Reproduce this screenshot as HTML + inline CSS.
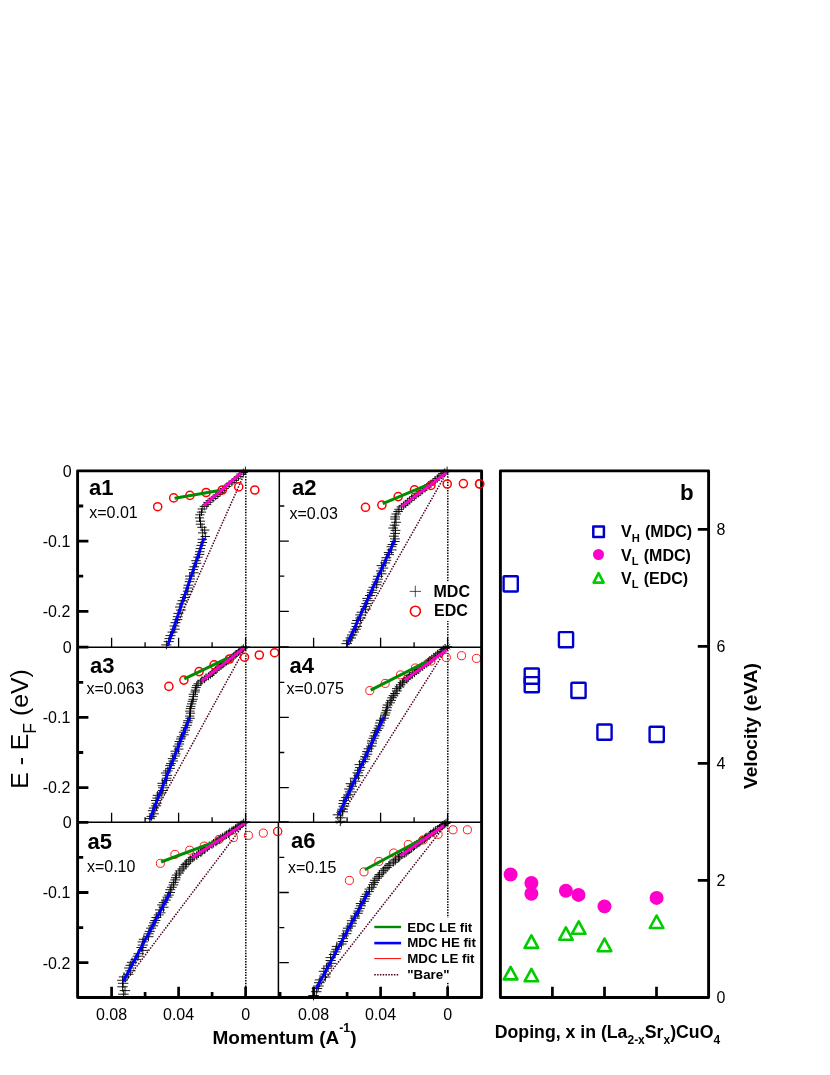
<!DOCTYPE html>
<html><head><meta charset="utf-8"><title>Figure</title>
<style>
html,body{margin:0;padding:0;background:#fff;}
body{width:830px;height:1075px;position:relative;overflow:hidden;font-family:"Liberation Sans",sans-serif;color:#000;}
.t{position:absolute;white-space:nowrap;line-height:0;height:0;}
.sb{position:relative;}
.txt{position:absolute;left:0;top:0;width:830px;height:1075px;filter:grayscale(1);}
</style></head><body>
<svg width="830" height="1075" viewBox="0 0 830 1075" style="position:absolute;left:0;top:0">
<rect width="830" height="1075" fill="#fff"/>
<g>
<line x1="245.8" y1="470.9" x2="245.8" y2="647.2" stroke="#000" stroke-width="1.5" stroke-dasharray="1.45 1.27"/>
<line x1="245.6" y1="471.0" x2="167.0" y2="647.0" stroke="#4d0026" stroke-width="1.5" stroke-dasharray="1.5 1.3"/>
<path d="M241.0 470.4h8.8M245.4 466.6v7.6M239.0 472.5h8.8M243.4 468.7v7.6M236.4 474.1h8.8M240.8 470.3v7.6M234.1 476.6h8.9M238.5 472.8v7.7M231.9 478.7h8.9M236.3 474.9v7.7M229.8 480.4h8.9M234.2 476.5v7.7M227.5 482.4h8.9M231.9 478.6v7.7M224.7 484.1h8.9M229.1 480.3v7.7M222.2 486.4h9.0M226.7 482.5v7.7M219.8 488.5h9.0M224.3 484.6v7.8M218.0 490.5h9.0M222.5 486.6v7.8M215.6 492.4h9.0M220.1 488.5v7.8M213.4 494.6h9.0M217.9 490.7v7.8M211.2 496.4h9.1M215.7 492.4v7.8M208.6 498.5h9.1M213.1 494.6v7.8M205.5 500.7h9.1M210.1 496.7v7.9M203.4 502.4h9.1M208.0 498.5v7.9M202.2 504.7h9.1M206.8 500.8v7.9M199.7 506.4h9.2M204.2 502.5v7.9M197.6 509.0h9.2M202.2 505.1v7.9M196.9 512.1h9.2M201.5 508.1v7.9M195.3 514.8h9.2M199.9 510.8v8.0M194.9 517.9h9.2M199.5 514.0v8.0M195.8 521.2h9.3M200.4 517.2v8.0M195.8 524.2h9.3M200.5 520.2v8.0M197.3 527.3h9.3M202.0 523.3v8.0M200.1 530.1h9.3M204.7 526.1v8.1M198.0 532.9h9.3M202.7 528.9v8.1M200.6 536.5h9.4M205.3 532.4v8.1M197.6 539.3h9.4M202.3 535.3v8.1M197.7 542.5h9.4M202.4 538.4v8.1M196.4 545.4h9.4M201.1 541.3v8.1M195.7 548.6h9.4M200.4 544.5v8.2M195.0 551.7h9.5M199.7 547.6v8.2M194.8 554.4h9.5M199.5 550.3v8.2M193.3 557.2h9.5M198.1 553.1v8.2M191.3 560.7h9.5M196.1 556.6v8.2M191.8 563.3h9.6M196.6 559.2v8.2M189.4 566.8h9.6M194.2 562.6v8.3M188.4 569.6h9.6M193.2 565.4v8.3M189.1 572.8h9.6M193.9 568.6v8.3M185.0 576.1h9.6M189.8 572.0v8.3M185.3 579.0h9.7M190.1 574.8v8.3M184.7 581.7h9.7M189.5 577.6v8.4M183.6 585.2h9.7M188.5 581.0v8.4M183.1 588.0h9.7M187.9 583.8v8.4M182.9 591.2h9.7M187.7 587.0v8.4M180.6 594.7h9.8M185.5 590.5v8.4M179.8 597.5h9.8M184.7 593.3v8.5M177.5 600.7h9.8M182.5 596.5v8.5M176.3 603.9h9.8M181.2 599.6v8.5M175.0 607.0h9.9M179.9 602.8v8.5M175.9 610.1h9.9M180.8 605.8v8.5M173.4 613.4h9.9M178.4 609.1v8.5M172.8 616.7h9.9M177.8 612.4v8.6M172.5 619.6h9.9M177.5 615.3v8.6M170.5 622.7h10.0M175.4 618.4v8.6M169.5 626.0h10.0M174.5 621.7v8.6M169.8 629.2h10.0M174.8 624.9v8.6M167.5 632.1h10.0M172.6 627.7v8.7M165.5 635.6h10.0M170.5 631.3v8.7M164.4 638.6h10.1M169.4 634.3v8.7M163.7 641.6h10.1M168.7 637.3v8.7M161.3 644.9h10.1M166.4 640.5v8.7" stroke="#000" stroke-width="0.9" fill="none"/>
<circle cx="157.7" cy="506.7" r="4.05" fill="none" stroke="#ff0000" stroke-width="1.5"/>
<circle cx="173.7" cy="497.9" r="4.05" fill="none" stroke="#ff0000" stroke-width="1.5"/>
<circle cx="189.9" cy="495.4" r="4.05" fill="none" stroke="#ff0000" stroke-width="1.5"/>
<circle cx="206.1" cy="492.5" r="4.05" fill="none" stroke="#ff0000" stroke-width="1.5"/>
<circle cx="222.3" cy="490.0" r="4.05" fill="none" stroke="#ff0000" stroke-width="1.5"/>
<circle cx="238.7" cy="486.9" r="4.05" fill="none" stroke="#ff0000" stroke-width="1.5"/>
<circle cx="254.8" cy="490.0" r="4.05" fill="none" stroke="#ff0000" stroke-width="1.5"/>
<line x1="174.6" y1="498.2" x2="219.3" y2="490.6" stroke="#008c00" stroke-width="3.0"/>
<line x1="204.1" y1="537.9" x2="167.8" y2="645.2" stroke="#0000ff" stroke-width="2.9"/>
<line x1="204.1" y1="505.5" x2="241.2" y2="472.6" stroke="#ff00cc" stroke-width="2.9"/>
</g>
<g>
<line x1="447.8" y1="470.9" x2="447.8" y2="647.2" stroke="#000" stroke-width="1.5" stroke-dasharray="1.45 1.27"/>
<line x1="447.6" y1="471.0" x2="347.5" y2="647.0" stroke="#4d0026" stroke-width="1.5" stroke-dasharray="1.5 1.3"/>
<path d="M442.5 470.4h9.2M447.1 466.6v7.6M440.2 472.1h9.2M444.8 468.3v7.6M438.5 473.6h9.2M443.1 469.8v7.6M436.5 475.2h9.3M441.1 471.4v7.6M434.3 476.9h9.3M438.9 473.0v7.7M432.8 478.5h9.3M437.4 474.7v7.7M430.4 480.3h9.3M435.1 476.4v7.7M428.3 482.0h9.3M432.9 478.2v7.7M426.2 483.7h9.3M430.8 479.9v7.7M424.4 485.0h9.4M429.1 481.2v7.7M422.2 487.0h9.4M426.9 483.1v7.7M420.3 488.3h9.4M425.0 484.4v7.8M417.7 490.4h9.4M422.4 486.5v7.8M416.1 491.8h9.4M420.8 487.9v7.8M413.8 493.4h9.4M418.5 489.5v7.8M411.2 495.3h9.5M416.0 491.4v7.8M409.7 496.7h9.5M414.4 492.8v7.8M406.8 498.3h9.5M411.6 494.4v7.8M404.7 500.4h9.5M409.5 496.5v7.9M402.8 502.1h9.5M407.6 498.2v7.9M400.9 503.8h9.6M405.7 499.9v7.9M398.9 505.4h9.6M403.7 501.5v7.9M396.6 506.9h9.6M401.4 503.0v7.9M394.3 509.3h9.6M399.1 505.3v7.9M393.3 511.5h9.6M398.1 507.6v7.9M391.4 514.0h9.6M396.2 510.0v8.0M390.3 516.9h9.7M395.2 512.9v8.0M390.2 519.1h9.7M395.1 515.1v8.0M391.2 522.3h9.7M396.0 518.3v8.0M389.7 525.2h9.7M394.6 521.2v8.0M388.3 528.0h9.7M393.1 523.9v8.0M390.6 530.4h9.8M395.5 526.3v8.1M390.2 533.4h9.8M395.1 529.4v8.1M388.9 536.2h9.8M393.8 532.2v8.1M390.0 538.9h9.8M394.9 534.8v8.1M389.9 541.5h9.8M394.9 537.4v8.1M387.6 544.5h9.8M392.5 540.5v8.1M386.6 546.7h9.9M391.5 542.6v8.1M386.7 549.9h9.9M391.6 545.8v8.2M383.8 552.5h9.9M388.7 548.4v8.2M384.1 554.6h9.9M389.1 550.5v8.2M381.4 557.7h9.9M386.4 553.6v8.2M381.2 560.3h10.0M386.1 556.2v8.2M380.2 562.9h10.0M385.2 558.8v8.2M376.6 565.6h10.0M381.6 561.5v8.3M378.2 568.1h10.0M383.2 564.0v8.3M375.9 570.9h10.0M380.9 566.8v8.3M376.5 573.8h10.1M381.5 569.6v8.3M373.1 576.3h10.1M378.1 572.2v8.3M372.7 579.2h10.1M377.7 575.1v8.3M371.8 582.0h10.1M376.8 577.8v8.4M371.2 584.7h10.1M376.3 580.5v8.4M368.5 587.3h10.2M373.6 583.1v8.4M367.1 590.2h10.2M372.2 586.0v8.4M366.7 592.6h10.2M371.8 588.4v8.4M364.9 595.5h10.2M370.0 591.3v8.4M362.3 598.4h10.2M367.5 594.2v8.5M362.7 600.7h10.3M367.8 596.5v8.5M361.4 603.6h10.3M366.5 599.4v8.5M359.8 606.4h10.3M364.9 602.1v8.5M360.4 609.2h10.3M365.6 604.9v8.5M356.6 612.2h10.3M361.8 608.0v8.5M355.3 614.9h10.4M360.5 610.7v8.6M355.3 618.0h10.4M360.5 613.7v8.6M352.2 620.5h10.4M357.4 616.2v8.6M351.2 623.4h10.4M356.4 619.1v8.6M351.6 626.5h10.4M356.8 622.2v8.6M350.3 629.2h10.5M355.5 624.8v8.6M348.6 632.0h10.5M353.8 627.7v8.7M346.9 635.0h10.5M352.2 630.7v8.7M345.5 638.0h10.5M350.8 633.7v8.7M342.7 640.8h10.5M348.0 636.5v8.7M341.4 643.6h10.6M346.7 639.3v8.7" stroke="#000" stroke-width="0.9" fill="none"/>
<circle cx="365.5" cy="507.3" r="4.05" fill="none" stroke="#ff0000" stroke-width="1.5"/>
<circle cx="381.9" cy="505.1" r="4.05" fill="none" stroke="#ff0000" stroke-width="1.5"/>
<circle cx="398.2" cy="496.6" r="4.05" fill="none" stroke="#ff0000" stroke-width="1.5"/>
<circle cx="414.5" cy="489.9" r="4.05" fill="none" stroke="#ff0000" stroke-width="1.5"/>
<circle cx="430.9" cy="485.4" r="4.05" fill="none" stroke="#ff0000" stroke-width="1.5"/>
<circle cx="447.2" cy="484.0" r="4.05" fill="none" stroke="#ff0000" stroke-width="1.5"/>
<circle cx="463.4" cy="483.6" r="4.05" fill="none" stroke="#ff0000" stroke-width="1.5"/>
<circle cx="479.6" cy="483.9" r="4.05" fill="none" stroke="#ff0000" stroke-width="1.5"/>
<line x1="382.8" y1="503.7" x2="426.8" y2="485.2" stroke="#008c00" stroke-width="3.0"/>
<line x1="394.8" y1="540.0" x2="347.0" y2="644.3" stroke="#0000ff" stroke-width="2.9"/>
<line x1="401.4" y1="506.6" x2="446.6" y2="472.6" stroke="#ff00cc" stroke-width="2.9"/>
</g>
<g>
<line x1="245.8" y1="647.2" x2="245.8" y2="822.3" stroke="#000" stroke-width="1.5" stroke-dasharray="1.45 1.27"/>
<line x1="245.6" y1="647.0" x2="149.5" y2="822.0" stroke="#4d0026" stroke-width="1.5" stroke-dasharray="1.5 1.3"/>
<path d="M241.1 646.9h8.8M245.5 643.1v7.6M239.0 648.1h8.8M243.4 644.3v7.6M237.7 649.4h8.8M242.1 645.6v7.6M235.5 650.6h8.8M239.9 646.8v7.6M233.9 652.2h8.9M238.4 648.4v7.6M231.8 653.9h8.9M236.3 650.1v7.7M230.7 654.9h8.9M235.2 651.1v7.7M229.1 656.3h8.9M233.5 652.4v7.7M226.7 657.8h8.9M231.1 653.9v7.7M225.6 659.3h8.9M230.0 655.4v7.7M223.8 660.8h8.9M228.2 656.9v7.7M221.7 662.1h9.0M226.2 658.2v7.7M219.4 663.4h9.0M223.9 659.5v7.7M218.4 664.5h9.0M222.9 660.6v7.8M216.5 666.0h9.0M221.0 662.1v7.8M214.4 667.4h9.0M218.9 663.5v7.8M212.5 668.8h9.0M217.0 664.9v7.8M210.9 670.2h9.0M215.5 666.3v7.8M208.8 672.1h9.1M213.3 668.2v7.8M207.7 673.4h9.1M212.2 669.5v7.8M205.8 675.0h9.1M210.4 671.0v7.9M204.0 676.4h9.1M208.5 672.4v7.9M201.4 677.4h9.1M206.0 673.4v7.9M199.8 679.2h9.1M204.4 675.3v7.9M197.4 680.3h9.2M201.9 676.4v7.9M196.2 681.9h9.2M200.8 677.9v7.9M193.5 683.8h9.2M198.1 679.9v7.9M192.2 685.6h9.2M196.8 681.6v7.9M191.5 687.6h9.2M196.1 683.6v8.0M190.8 690.1h9.2M195.4 686.1v8.0M190.5 692.0h9.2M195.1 688.0v8.0M188.7 694.3h9.3M193.3 690.3v8.0M188.8 696.6h9.3M193.5 692.6v8.0M188.4 699.3h9.3M193.1 695.3v8.0M187.6 701.3h9.3M192.3 697.3v8.0M186.9 703.9h9.3M191.6 699.9v8.0M186.2 706.4h9.3M190.8 702.3v8.1M185.8 708.6h9.4M190.5 704.6v8.1M185.1 711.1h9.4M189.8 707.1v8.1M185.8 713.2h9.4M190.5 709.2v8.1M185.0 716.1h9.4M189.7 712.0v8.1M185.3 718.3h9.4M190.0 714.2v8.1M183.3 720.7h9.4M188.0 716.7v8.1M183.0 722.7h9.4M187.7 718.7v8.2M182.4 725.3h9.5M187.1 721.2v8.2M180.7 727.7h9.5M185.5 723.6v8.2M180.5 730.2h9.5M185.2 726.1v8.2M178.8 732.2h9.5M183.5 728.1v8.2M179.3 734.8h9.5M184.0 730.7v8.2M176.7 736.8h9.5M181.5 732.7v8.2M176.0 739.0h9.6M180.8 734.9v8.3M174.6 741.5h9.6M179.4 737.4v8.3M174.5 744.0h9.6M179.3 739.8v8.3M172.9 746.2h9.6M177.7 742.1v8.3M173.8 749.1h9.6M178.6 745.0v8.3M170.5 751.2h9.6M175.3 747.1v8.3M170.8 753.8h9.7M175.6 749.7v8.3M170.2 756.0h9.7M175.0 751.9v8.4M167.8 758.6h9.7M172.6 754.4v8.4M168.4 761.0h9.7M173.2 756.9v8.4M166.1 763.6h9.7M171.0 759.4v8.4M165.2 765.6h9.7M170.1 761.4v8.4M165.1 768.4h9.8M169.9 764.1v8.4M162.9 770.9h9.8M167.8 766.7v8.4M160.9 773.0h9.8M165.8 768.8v8.5M162.3 775.4h9.8M167.2 771.2v8.5M161.7 778.2h9.8M166.7 774.0v8.5M161.4 780.4h9.8M166.3 776.2v8.5M157.4 783.3h9.9M162.3 779.0v8.5M157.7 785.7h9.9M162.6 781.4v8.5M158.1 787.8h9.9M163.0 783.5v8.5M157.8 790.5h9.9M162.7 786.2v8.6M156.2 793.0h9.9M161.2 788.7v8.6M152.7 795.3h9.9M157.7 791.0v8.6M152.4 798.1h10.0M157.3 793.8v8.6M151.0 800.5h10.0M156.0 796.2v8.6M151.6 803.3h10.0M156.6 799.0v8.6M151.2 805.8h10.0M156.2 801.5v8.6M148.8 808.1h10.0M153.8 803.8v8.7M147.8 810.7h10.1M152.9 806.4v8.7M148.8 813.8h10.1M153.8 809.4v8.7M146.5 816.4h10.1M151.6 812.0v8.7M144.8 818.6h10.1M149.8 814.3v8.7" stroke="#000" stroke-width="0.9" fill="none"/>
<circle cx="168.9" cy="686.4" r="4.05" fill="none" stroke="#ff0000" stroke-width="1.5"/>
<circle cx="183.9" cy="680.1" r="4.05" fill="none" stroke="#ff0000" stroke-width="1.5"/>
<circle cx="199.1" cy="671.6" r="4.05" fill="none" stroke="#ff0000" stroke-width="1.5"/>
<circle cx="214.1" cy="664.9" r="4.05" fill="none" stroke="#ff0000" stroke-width="1.5"/>
<circle cx="229.5" cy="659.0" r="4.05" fill="none" stroke="#ff0000" stroke-width="1.5"/>
<circle cx="244.5" cy="657.2" r="4.05" fill="none" stroke="#ff0000" stroke-width="1.5"/>
<circle cx="259.3" cy="655.0" r="4.05" fill="none" stroke="#ff0000" stroke-width="1.5"/>
<circle cx="274.6" cy="652.7" r="4.05" fill="none" stroke="#ff0000" stroke-width="1.5"/>
<line x1="184.3" y1="678.9" x2="228.6" y2="657.7" stroke="#008c00" stroke-width="3.0"/>
<line x1="189.7" y1="717.4" x2="149.6" y2="819.8" stroke="#0000ff" stroke-width="2.9"/>
<line x1="201.4" y1="681.2" x2="243.9" y2="648.1" stroke="#ff00cc" stroke-width="2.9"/>
</g>
<g>
<line x1="447.8" y1="647.2" x2="447.8" y2="822.3" stroke="#000" stroke-width="1.5" stroke-dasharray="1.45 1.27"/>
<line x1="447.6" y1="647.0" x2="339.5" y2="818.0" stroke="#4d0026" stroke-width="1.5" stroke-dasharray="1.5 1.3"/>
<path d="M442.9 646.7h9.2M447.5 642.5v8.4M440.5 648.4h9.2M445.1 644.2v8.4M438.7 649.6h9.2M443.3 645.4v8.4M436.7 651.4h9.2M441.3 647.2v8.4M435.6 652.8h9.3M440.2 648.5v8.5M433.1 654.0h9.3M437.8 649.8v8.5M431.0 655.9h9.3M435.7 651.6v8.5M429.4 657.4h9.3M434.0 653.1v8.5M427.2 658.9h9.3M431.9 654.6v8.5M425.4 660.4h9.3M430.0 656.1v8.5M423.8 661.9h9.4M428.5 657.7v8.5M422.2 663.2h9.4M426.9 658.9v8.6M419.7 664.8h9.4M424.4 660.5v8.6M417.5 666.6h9.4M422.2 662.3v8.6M415.1 668.1h9.4M419.9 663.8v8.6M413.3 669.6h9.4M418.0 665.3v8.6M411.5 670.9h9.5M416.2 666.6v8.6M409.8 672.9h9.5M414.5 668.5v8.7M407.5 674.4h9.5M412.3 670.1v8.7M404.9 675.8h9.5M409.6 671.5v8.7M403.4 677.7h9.5M408.2 673.4v8.7M401.9 678.8h9.5M406.7 674.4v8.7M399.1 681.0h9.6M403.9 676.6v8.7M397.8 682.7h9.6M402.5 678.3v8.7M395.8 684.8h9.6M400.6 680.4v8.8M394.8 686.9h9.6M399.6 682.5v8.8M392.0 688.6h9.6M396.8 684.2v8.8M392.2 690.9h9.6M397.0 686.5v8.8M390.1 693.5h9.7M394.9 689.1v8.8M388.6 695.7h9.7M393.4 691.3v8.8M387.2 697.8h9.7M392.0 693.4v8.9M386.3 700.4h9.7M391.1 696.0v8.9M385.2 702.8h9.7M390.0 698.3v8.9M382.6 705.0h9.7M387.5 700.5v8.9M382.1 707.7h9.8M387.0 703.2v8.9M381.7 710.3h9.8M386.6 705.8v8.9M380.7 712.9h9.8M385.6 708.5v8.9M380.0 715.1h9.8M385.0 710.6v9.0M379.0 718.2h9.8M383.9 713.7v9.0M375.8 720.3h9.9M380.7 715.8v9.0M375.1 723.0h9.9M380.1 718.5v9.0M374.6 725.8h9.9M379.5 721.2v9.0M373.5 728.2h9.9M378.5 723.7v9.0M371.9 730.6h9.9M376.9 726.0v9.1M370.3 732.8h9.9M375.3 728.3v9.1M369.4 735.9h10.0M374.4 731.3v9.1M368.5 738.3h10.0M373.5 733.8v9.1M366.9 740.9h10.0M371.9 736.3v9.1M367.0 743.2h10.0M372.0 738.6v9.2M366.4 746.1h10.0M371.4 741.5v9.2M363.6 748.8h10.1M368.6 744.2v9.2M362.2 751.6h10.1M367.2 747.0v9.2M362.1 754.2h10.1M367.2 749.6v9.2M360.2 756.7h10.1M365.2 752.1v9.2M360.1 759.2h10.1M365.2 754.5v9.3M358.3 761.7h10.2M363.4 757.1v9.3M354.5 764.6h10.2M359.6 759.9v9.3M355.0 767.6h10.2M360.1 762.9v9.3M354.1 770.3h10.2M359.2 765.6v9.3M352.5 772.9h10.2M357.6 768.2v9.3M353.3 775.7h10.3M358.4 771.0v9.4M349.7 778.2h10.3M354.9 773.5v9.4M350.1 781.2h10.3M355.3 776.5v9.4M345.6 783.7h10.3M350.7 779.0v9.4M346.7 786.3h10.3M351.9 781.6v9.4M344.1 789.0h10.4M349.3 784.3v9.5M344.8 791.9h10.4M350.0 787.1v9.5M343.2 794.9h10.4M348.4 790.1v9.5M341.1 797.6h10.4M346.3 792.9v9.5M338.8 800.6h10.4M344.0 795.8v9.5M338.4 803.5h10.5M343.7 798.7v9.5M338.9 806.1h10.5M344.1 801.3v9.6M337.4 809.2h10.5M342.6 804.4v9.6M337.4 811.8h10.5M342.7 807.0v9.6M332.7 814.8h10.5M337.9 810.0v9.6M335.1 817.8h10.6M340.4 813.0v9.6M335.1 821.3h10.6M340.3 816.5v9.7" stroke="#000" stroke-width="0.9" fill="none"/>
<path d="M444.6 644.0l5.6 5.6M444.6 649.6l5.6 -5.6M440.8 647.0l5.6 5.6M440.8 652.6l5.6 -5.6M437.0 650.0l5.6 5.6M437.0 655.6l5.6 -5.6M433.2 653.0l5.6 5.6M433.2 658.6l5.6 -5.6M429.3 656.0l5.6 5.6M429.3 661.6l5.6 -5.6M425.4 659.1l5.6 5.6M425.4 664.7l5.6 -5.6M421.4 662.1l5.6 5.6M421.4 667.7l5.6 -5.6M417.5 665.2l5.6 5.6M417.5 670.8l5.6 -5.6M413.5 668.4l5.6 5.6M413.5 674.0l5.6 -5.6M409.5 671.5l5.6 5.6M409.5 677.1l5.6 -5.6M405.4 674.7l5.6 5.6M405.4 680.3l5.6 -5.6M401.5 678.0l5.6 5.6M401.5 683.6l5.6 -5.6M398.0 682.0l5.6 5.6M398.0 687.6l5.6 -5.6M394.7 686.0l5.6 5.6M394.7 691.6l5.6 -5.6M391.9 690.5l5.6 5.6M391.9 696.1l5.6 -5.6M389.0 695.0l5.6 5.6M389.0 700.6l5.6 -5.6M386.8 699.9l5.6 5.6M386.8 705.5l5.6 -5.6M384.6 704.9l5.6 5.6M384.6 710.5l5.6 -5.6M382.6 710.0l5.6 5.6M382.6 715.6l5.6 -5.6M380.6 715.1l5.6 5.6M380.6 720.7l5.6 -5.6M378.2 720.1l5.6 5.6M378.2 725.7l5.6 -5.6M375.9 725.2l5.6 5.6M375.9 730.8l5.6 -5.6M373.6 730.3l5.6 5.6M373.6 735.9l5.6 -5.6M371.2 735.5l5.6 5.6M371.2 741.1l5.6 -5.6M368.8 740.7l5.6 5.6M368.8 746.3l5.6 -5.6M366.4 745.9l5.6 5.6M366.4 751.5l5.6 -5.6M364.0 751.2l5.6 5.6M364.0 756.8l5.6 -5.6M361.5 756.5l5.6 5.6M361.5 762.1l5.6 -5.6M359.1 761.9l5.6 5.6M359.1 767.5l5.6 -5.6M356.6 767.3l5.6 5.6M356.6 772.9l5.6 -5.6M354.1 772.7l5.6 5.6M354.1 778.3l5.6 -5.6M351.6 778.2l5.6 5.6M351.6 783.8l5.6 -5.6M349.0 783.7l5.6 5.6M349.0 789.3l5.6 -5.6M346.5 789.3l5.6 5.6M346.5 794.9l5.6 -5.6M343.9 794.9l5.6 5.6M343.9 800.5l5.6 -5.6M341.3 800.5l5.6 5.6M341.3 806.1l5.6 -5.6M338.7 806.2l5.6 5.6M338.7 811.8l5.6 -5.6M336.2 812.0l5.6 5.6M336.2 817.6l5.6 -5.6M336.6 818.3l5.6 5.6M336.6 823.9l5.6 -5.6" stroke="#111" stroke-width="0.7" fill="none"/>
<circle cx="369.8" cy="690.6" r="4.05" fill="none" stroke="#ff0000" stroke-width="0.9"/>
<circle cx="385.2" cy="683.4" r="4.05" fill="none" stroke="#ff0000" stroke-width="0.9"/>
<circle cx="400.5" cy="674.9" r="4.05" fill="none" stroke="#ff0000" stroke-width="0.9"/>
<circle cx="415.4" cy="668.0" r="4.05" fill="none" stroke="#ff0000" stroke-width="0.9"/>
<circle cx="430.9" cy="661.1" r="4.05" fill="none" stroke="#ff0000" stroke-width="0.9"/>
<circle cx="446.3" cy="657.5" r="4.05" fill="none" stroke="#ff0000" stroke-width="0.9"/>
<circle cx="461.5" cy="655.7" r="4.05" fill="none" stroke="#ff0000" stroke-width="0.9"/>
<circle cx="476.5" cy="658.4" r="4.05" fill="none" stroke="#ff0000" stroke-width="0.9"/>
<line x1="370.7" y1="690.2" x2="426.8" y2="661.7" stroke="#008c00" stroke-width="3.0"/>
<line x1="383.9" y1="716.8" x2="338.7" y2="814.7" stroke="#0000ff" stroke-width="2.9"/>
<line x1="404.7" y1="680.1" x2="446.6" y2="649.9" stroke="#ff00cc" stroke-width="2.9"/>
</g>
<g>
<line x1="245.8" y1="822.3" x2="245.8" y2="997.5" stroke="#000" stroke-width="1.5" stroke-dasharray="1.45 1.27"/>
<line x1="245.6" y1="822.2" x2="124.2" y2="983.0" stroke="#4d0026" stroke-width="1.5" stroke-dasharray="1.5 1.3"/>
<path d="M240.8 821.8h9.2M245.4 817.6v8.4M239.0 822.9h9.2M243.6 818.7v8.4M237.5 824.0h9.2M242.1 819.8v8.4M235.7 825.1h9.2M240.3 820.9v8.4M234.2 826.3h9.3M238.8 822.1v8.4M232.5 827.4h9.3M237.1 823.2v8.5M230.9 828.6h9.3M235.5 824.3v8.5M228.6 830.1h9.3M233.3 825.9v8.5M227.2 830.9h9.3M231.9 826.7v8.5M225.1 832.1h9.3M229.8 827.8v8.5M223.8 833.8h9.3M228.5 829.6v8.5M221.9 834.8h9.3M226.5 830.5v8.5M220.2 835.8h9.4M224.9 831.5v8.5M218.0 837.0h9.4M222.7 832.7v8.6M216.2 838.2h9.4M220.8 833.9v8.6M214.5 839.8h9.4M219.2 835.6v8.6M212.4 840.9h9.4M217.1 836.6v8.6M211.1 842.0h9.4M215.9 837.7v8.6M208.8 843.3h9.4M213.5 839.0v8.6M207.3 844.6h9.5M212.0 840.3v8.6M204.6 845.7h9.5M209.3 841.4v8.6M202.7 847.3h9.5M207.5 843.0v8.7M200.1 848.3h9.5M204.9 844.0v8.7M199.6 849.7h9.5M204.3 845.4v8.7M197.4 850.9h9.5M202.2 846.6v8.7M196.1 852.8h9.5M200.9 848.4v8.7M193.7 853.7h9.6M198.5 849.3v8.7M192.0 855.4h9.6M196.8 851.1v8.7M189.3 856.8h9.6M194.1 852.5v8.8M187.5 857.9h9.6M192.3 853.5v8.8M185.5 859.7h9.6M190.3 855.3v8.8M183.9 861.2h9.6M188.8 856.8v8.8M181.8 863.2h9.6M186.6 858.8v8.8M180.5 864.6h9.7M185.3 860.2v8.8M178.9 866.8h9.7M183.7 862.4v8.8M177.3 868.9h9.7M182.1 864.5v8.9M175.1 870.9h9.7M180.0 866.5v8.9M174.2 873.1h9.7M179.1 868.7v8.9M171.8 875.1h9.7M176.6 870.6v8.9M170.9 877.7h9.8M175.8 873.2v8.9M170.4 879.9h9.8M175.3 875.4v8.9M168.9 882.4h9.8M173.8 878.0v8.9M168.5 884.9h9.8M173.4 880.4v9.0M166.9 887.3h9.8M171.8 882.9v9.0M165.4 889.7h9.8M170.3 885.2v9.0M165.1 892.5h9.9M170.1 888.0v9.0M163.8 895.1h9.9M168.7 890.6v9.0M162.5 897.2h9.9M167.4 892.7v9.0M161.0 900.1h9.9M165.9 895.6v9.0M158.8 902.6h9.9M163.8 898.1v9.1M157.2 904.9h9.9M162.2 900.3v9.1M158.5 907.3h10.0M163.5 902.8v9.1M155.0 909.9h10.0M160.0 905.4v9.1M155.5 912.8h10.0M160.5 908.3v9.1M153.7 914.9h10.0M158.7 910.3v9.1M151.4 917.5h10.0M156.4 912.9v9.2M150.3 920.5h10.1M155.3 915.9v9.2M149.1 922.8h10.1M154.1 918.2v9.2M148.0 925.8h10.1M153.0 921.2v9.2M146.1 928.2h10.1M151.1 923.6v9.2M144.7 931.4h10.1M149.8 926.7v9.2M143.6 933.8h10.1M148.7 929.1v9.3M143.3 936.7h10.2M148.4 932.1v9.3M138.8 939.3h10.2M143.9 934.7v9.3M137.7 941.9h10.2M142.8 937.3v9.3M137.7 945.1h10.2M142.8 940.4v9.3M136.4 947.5h10.2M141.6 942.8v9.4M137.7 950.4h10.3M142.8 945.7v9.4M133.5 953.7h10.3M138.6 949.0v9.4M132.7 956.2h10.3M137.8 951.5v9.4M130.6 959.4h10.3M135.8 954.7v9.4M126.9 962.3h10.3M132.1 957.6v9.4M125.5 965.3h10.4M130.7 960.6v9.5M124.1 968.0h10.4M129.3 963.3v9.5M125.2 970.8h10.4M130.4 966.1v9.5M123.0 974.3h10.4M128.2 969.5v9.5M118.8 976.9h10.5M124.0 972.2v9.5M117.2 980.3h10.5M122.5 975.5v9.6M117.9 983.3h10.5M123.2 978.5v9.6M117.3 986.8h10.5M122.6 982.0v9.6M119.7 990.6h10.5M125.0 985.8v9.6M118.1 994.2h10.6M123.4 989.4v9.6" stroke="#000" stroke-width="0.9" fill="none"/>
<circle cx="160.4" cy="863.3" r="4.05" fill="none" stroke="#ff0000" stroke-width="0.9"/>
<circle cx="174.9" cy="854.4" r="4.05" fill="none" stroke="#ff0000" stroke-width="0.9"/>
<circle cx="189.7" cy="850.2" r="4.05" fill="none" stroke="#ff0000" stroke-width="0.9"/>
<circle cx="204.2" cy="846.1" r="4.05" fill="none" stroke="#ff0000" stroke-width="0.9"/>
<circle cx="219.0" cy="839.4" r="4.05" fill="none" stroke="#ff0000" stroke-width="0.9"/>
<circle cx="233.4" cy="837.6" r="4.05" fill="none" stroke="#ff0000" stroke-width="0.9"/>
<circle cx="248.4" cy="835.4" r="4.05" fill="none" stroke="#ff0000" stroke-width="0.9"/>
<circle cx="263.3" cy="833.1" r="4.05" fill="none" stroke="#ff0000" stroke-width="0.9"/>
<circle cx="277.7" cy="831.4" r="4.05" fill="none" stroke="#ff0000" stroke-width="0.9"/>
<line x1="161.1" y1="862.0" x2="216.8" y2="841.2" stroke="#008c00" stroke-width="3.0"/>
<line x1="169.8" y1="893.1" x2="123.4" y2="981.3" stroke="#0000ff" stroke-width="2.9"/>
<line x1="192.4" y1="857.5" x2="245.2" y2="823.1" stroke="#ff00cc" stroke-width="2.9"/>
</g>
<g>
<line x1="447.8" y1="822.3" x2="447.8" y2="997.5" stroke="#000" stroke-width="1.5" stroke-dasharray="1.45 1.27"/>
<line x1="447.6" y1="822.2" x2="317.0" y2="989.5" stroke="#4d0026" stroke-width="1.5" stroke-dasharray="1.5 1.3"/>
<path d="M442.6 822.1h9.2M447.2 817.9v8.4M441.2 823.5h9.2M445.8 819.3v8.4M439.7 824.3h9.2M444.3 820.0v8.4M437.8 825.4h9.2M442.4 821.2v8.4M436.3 826.5h9.2M440.9 822.3v8.4M434.9 828.2h9.3M439.5 823.9v8.5M432.7 829.4h9.3M437.4 825.2v8.5M430.8 830.4h9.3M435.4 826.2v8.5M429.1 831.5h9.3M433.8 827.3v8.5M428.4 833.1h9.3M433.0 828.8v8.5M425.9 834.1h9.3M430.5 829.8v8.5M424.4 835.6h9.3M429.1 831.4v8.5M422.3 836.8h9.4M427.0 832.6v8.5M420.7 837.7h9.4M425.4 833.4v8.6M419.8 838.9h9.4M424.5 834.6v8.6M417.3 840.4h9.4M422.0 836.1v8.6M415.3 841.8h9.4M420.0 837.5v8.6M414.3 842.8h9.4M419.0 838.5v8.6M412.1 844.2h9.4M416.8 839.9v8.6M409.8 845.7h9.4M414.5 841.4v8.6M408.8 846.8h9.5M413.6 842.5v8.6M406.7 848.2h9.5M411.5 843.9v8.7M404.8 849.3h9.5M409.6 845.0v8.7M403.2 851.1h9.5M407.9 846.7v8.7M401.5 852.6h9.5M406.2 848.2v8.7M399.9 853.6h9.5M404.7 849.2v8.7M397.0 854.8h9.5M401.7 850.5v8.7M395.0 856.4h9.6M399.8 852.1v8.7M393.9 857.9h9.6M398.6 853.6v8.7M390.9 859.3h9.6M395.7 854.9v8.8M390.4 860.9h9.6M395.2 856.5v8.8M388.5 862.3h9.6M393.3 857.9v8.8M385.2 863.8h9.6M390.0 859.4v8.8M384.1 865.4h9.6M388.9 861.0v8.8M382.2 867.4h9.7M387.1 863.0v8.8M380.2 868.8h9.7M385.1 864.4v8.8M378.7 870.7h9.7M383.6 866.3v8.9M377.1 872.9h9.7M382.0 868.5v8.9M374.6 874.6h9.7M379.5 870.2v8.9M373.9 876.3h9.7M378.8 871.8v8.9M372.2 878.2h9.8M377.0 873.7v8.9M370.1 880.3h9.8M375.0 875.8v8.9M369.3 882.6h9.8M374.2 878.1v8.9M368.2 884.7h9.8M373.1 880.2v9.0M366.8 887.3h9.8M371.7 882.8v9.0M364.6 889.1h9.8M369.5 884.6v9.0M364.0 891.6h9.9M369.0 887.1v9.0M361.7 894.2h9.9M366.7 889.7v9.0M360.4 896.5h9.9M365.3 892.0v9.0M359.9 898.9h9.9M364.9 894.3v9.0M359.0 901.3h9.9M364.0 896.7v9.1M355.8 903.5h9.9M360.8 899.0v9.1M355.9 905.8h10.0M360.9 901.2v9.1M354.7 908.4h10.0M359.7 903.9v9.1M353.5 911.0h10.0M358.5 906.5v9.1M352.8 913.3h10.0M357.8 908.8v9.1M350.1 916.0h10.0M355.1 911.4v9.1M349.8 918.2h10.0M354.8 913.6v9.2M346.8 920.7h10.1M351.9 916.1v9.2M346.8 923.3h10.1M351.9 918.7v9.2M345.7 926.1h10.1M350.7 921.5v9.2M342.9 928.2h10.1M347.9 923.6v9.2M342.1 930.9h10.1M347.2 926.2v9.2M341.3 933.7h10.1M346.4 929.1v9.3M338.6 935.9h10.2M343.6 931.2v9.3M337.7 938.6h10.2M342.8 934.0v9.3M337.8 941.5h10.2M342.9 936.9v9.3M336.4 944.0h10.2M341.5 939.4v9.3M331.7 946.4h10.2M336.8 941.7v9.3M331.2 949.3h10.3M336.3 944.6v9.4M330.3 951.9h10.3M335.4 947.2v9.4M328.8 954.5h10.3M333.9 949.8v9.4M325.6 957.6h10.3M330.7 952.9v9.4M325.5 960.5h10.3M330.7 955.7v9.4M325.9 963.3h10.3M331.1 958.5v9.4M322.9 966.0h10.4M328.1 961.3v9.5M321.3 968.4h10.4M326.5 963.6v9.5M318.7 971.3h10.4M323.9 966.5v9.5M320.3 974.1h10.4M325.5 969.3v9.5M320.0 977.0h10.4M325.2 972.2v9.5M314.8 979.9h10.5M320.0 975.1v9.6M314.0 982.7h10.5M319.2 977.9v9.6M313.2 986.0h10.5M318.4 981.2v9.6M311.7 988.5h10.5M317.0 983.7v9.6M311.0 991.7h10.5M316.3 986.9v9.6M308.2 995.5h10.6M313.5 990.7v9.7" stroke="#000" stroke-width="0.9" fill="none"/>
<circle cx="349.4" cy="880.4" r="4.05" fill="none" stroke="#ff0000" stroke-width="0.9"/>
<circle cx="364.0" cy="871.9" r="4.05" fill="none" stroke="#ff0000" stroke-width="0.9"/>
<circle cx="378.9" cy="861.4" r="4.05" fill="none" stroke="#ff0000" stroke-width="0.9"/>
<circle cx="393.7" cy="853.0" r="4.05" fill="none" stroke="#ff0000" stroke-width="0.9"/>
<circle cx="408.3" cy="844.5" r="4.05" fill="none" stroke="#ff0000" stroke-width="0.9"/>
<circle cx="423.1" cy="839.9" r="4.05" fill="none" stroke="#ff0000" stroke-width="0.9"/>
<circle cx="438.1" cy="834.3" r="4.05" fill="none" stroke="#ff0000" stroke-width="0.9"/>
<circle cx="453.0" cy="829.8" r="4.05" fill="none" stroke="#ff0000" stroke-width="0.9"/>
<circle cx="467.4" cy="829.8" r="4.05" fill="none" stroke="#ff0000" stroke-width="0.9"/>
<line x1="364.9" y1="869.8" x2="423.1" y2="838.5" stroke="#008c00" stroke-width="3.0"/>
<line x1="368.4" y1="891.8" x2="316.1" y2="988.9" stroke="#0000ff" stroke-width="2.9"/>
<line x1="400.5" y1="855.7" x2="443.9" y2="825.5" stroke="#ff00cc" stroke-width="2.9"/>
</g>
<rect x="430" y="581.5" width="47" height="39.5" fill="#fff"/>
<path d="M409.7 591.4h11.3M415.3 585.7v11.4" stroke="#222" stroke-width="0.8" fill="none"/>
<circle cx="415.4" cy="611.2" r="5.0" fill="none" stroke="#ff0000" stroke-width="1.6"/>
<rect x="404" y="917.5" width="75" height="65" fill="#fff"/>
<line x1="374.3" y1="927" x2="401.1" y2="927" stroke="#008c00" stroke-width="2.4"/>
<line x1="374.3" y1="943.1" x2="401.1" y2="943.1" stroke="#0000ff" stroke-width="2.6"/>
<line x1="374.3" y1="958.6" x2="401.1" y2="958.6" stroke="#ff0000" stroke-width="1"/>
<line x1="374.3" y1="974.8" x2="398.6" y2="974.8" stroke="#4d0026" stroke-width="1.5" stroke-dasharray="1.5 1.3"/>
<g stroke="#000" fill="none">
<line x1="279.3" y1="470.9" x2="279.3" y2="822.3" stroke-width="1.5"/>
<line x1="278.4" y1="822.3" x2="278.4" y2="997.5" stroke-width="1.5"/>
<line x1="77.6" y1="647.2" x2="481.6" y2="647.2" stroke-width="1.4"/>
<line x1="77.6" y1="822.3" x2="481.6" y2="822.3" stroke-width="1.4"/>
<path d="M111.6 647.2v-9.5M145.1 647.2v-5.0M178.6 647.2v-9.5M212.1 647.2v-5.0M245.6 647.2v-9.5M313.6 647.2v-9.5M347.1 647.2v-5.0M380.6 647.2v-9.5M414.1 647.2v-5.0M447.6 647.2v-9.5M111.6 822.3v-9.5M145.1 822.3v-5.0M178.6 822.3v-9.5M212.1 822.3v-5.0M245.6 822.3v-9.5M313.6 822.3v-9.5M347.1 822.3v-5.0M380.6 822.3v-9.5M414.1 822.3v-5.0M447.6 822.3v-9.5" stroke-width="1.3"/>
<path d="M279.3 506.0h5.0M279.3 541.1h9.5M279.3 576.2h5.0M279.3 611.3h9.5M279.3 682.3h5.0M279.3 717.4h9.5M279.3 752.5h5.0M279.3 787.6h9.5M279.3 646.9h9.5M279.3 857.4h5.0M279.3 892.5h9.5M279.3 927.6h5.0M279.3 962.7h9.5M279.3 822.0h9.5" stroke-width="1.3"/>
<path d="M77.6 506.0h5.6M77.6 541.1h10.8M77.6 576.2h5.6M77.6 611.3h10.8M77.6 647.2h10.8M77.6 682.3h5.6M77.6 717.4h10.8M77.6 752.5h5.6M77.6 787.6h10.8M77.6 822.3h10.8M77.6 857.4h5.6M77.6 892.5h10.8M77.6 927.6h5.6M77.6 962.7h10.8" stroke-width="2.8"/>
<path d="M111.6 997.5v-10.8M145.1 997.5v-5.6M178.6 997.5v-10.8M212.1 997.5v-5.6M245.6 997.5v-10.8M280.1 997.5v-5.6M313.6 997.5v-10.8M347.1 997.5v-5.6M380.6 997.5v-10.8M414.1 997.5v-5.6M447.6 997.5v-10.8" stroke-width="2.7"/>
<rect x="77.6" y="470.9" width="404.0" height="526.6" stroke-width="2.9" stroke-linejoin="round"/>
</g>
<circle cx="479.6" cy="483.9" r="4.05" fill="none" stroke="#ff0000" stroke-width="1.5"/>
<circle cx="277.7" cy="831.4" r="4.05" fill="none" stroke="#ff0000" stroke-width="0.9"/>
<rect x="503.6" y="576.3" width="14.2" height="15.2" rx="0.8" fill="none" stroke="#0000cc" stroke-width="2.4" stroke-linejoin="round"/>
<rect x="558.9" y="632.1" width="14.2" height="15.2" rx="0.8" fill="none" stroke="#0000cc" stroke-width="2.4" stroke-linejoin="round"/>
<rect x="524.7" y="668.5" width="14.2" height="15.2" rx="0.8" fill="none" stroke="#0000cc" stroke-width="2.4" stroke-linejoin="round"/>
<rect x="524.7" y="677.1" width="14.2" height="15.2" rx="0.8" fill="none" stroke="#0000cc" stroke-width="2.4" stroke-linejoin="round"/>
<rect x="571.4" y="682.8" width="14.2" height="15.2" rx="0.8" fill="none" stroke="#0000cc" stroke-width="2.4" stroke-linejoin="round"/>
<rect x="597.4" y="724.5" width="14.2" height="15.2" rx="0.8" fill="none" stroke="#0000cc" stroke-width="2.4" stroke-linejoin="round"/>
<rect x="649.6" y="726.8" width="14.2" height="15.2" rx="0.8" fill="none" stroke="#0000cc" stroke-width="2.4" stroke-linejoin="round"/>
<circle cx="510.6" cy="874.5" r="7.0" fill="#ff00cc"/>
<circle cx="531.4" cy="883.0" r="7.0" fill="#ff00cc"/>
<circle cx="531.4" cy="893.8" r="7.0" fill="#ff00cc"/>
<circle cx="565.9" cy="890.8" r="7.0" fill="#ff00cc"/>
<circle cx="578.5" cy="894.9" r="7.0" fill="#ff00cc"/>
<circle cx="604.5" cy="906.4" r="7.0" fill="#ff00cc"/>
<circle cx="656.6" cy="897.9" r="7.0" fill="#ff00cc"/>
<path d="M510.6 966.9L517.4 979.4L503.8 979.4Z" fill="none" stroke="#00cc00" stroke-width="2.6" stroke-linejoin="round"/>
<path d="M531.4 968.8L538.2 981.3L524.6 981.3Z" fill="none" stroke="#00cc00" stroke-width="2.6" stroke-linejoin="round"/>
<path d="M531.4 935.4L538.2 947.9L524.6 947.9Z" fill="none" stroke="#00cc00" stroke-width="2.6" stroke-linejoin="round"/>
<path d="M565.9 927.3L572.7 939.8L559.1 939.8Z" fill="none" stroke="#00cc00" stroke-width="2.6" stroke-linejoin="round"/>
<path d="M578.7 921.3L585.5 933.8L571.9 933.8Z" fill="none" stroke="#00cc00" stroke-width="2.6" stroke-linejoin="round"/>
<path d="M604.5 938.7L611.3 951.2L597.7 951.2Z" fill="none" stroke="#00cc00" stroke-width="2.6" stroke-linejoin="round"/>
<path d="M656.6 915.5L663.4 928.0L649.8 928.0Z" fill="none" stroke="#00cc00" stroke-width="2.6" stroke-linejoin="round"/>
<rect x="593.3" y="526.5" width="10.6" height="10.6" fill="none" stroke="#0000cc" stroke-width="2.5" stroke-linejoin="round"/>
<circle cx="598.5" cy="554.5" r="5.5" fill="#ff00cc"/>
<path d="M598.6 573.2L603.6 582.6L593.6 582.6Z" fill="none" stroke="#00cc00" stroke-width="2.6" stroke-linejoin="round"/>
<g stroke="#000" fill="none">
<path d="M708.6 880.4h-10.8M708.6 763.4h-10.8M708.6 646.3h-10.8M708.6 529.3h-10.8M552.4 997.5v-10.8M604.5 997.5v-10.8M656.5 997.5v-10.8" stroke-width="2.7"/>
<rect x="500.4" y="470.9" width="208.2" height="526.6" stroke-width="2.9" stroke-linejoin="round"/>
</g>
</svg>
<div class="txt">
<div class="t" style="left:71.7px;top:471.76px;font-size:16.0px; transform:translateX(-100%);">0</div>
<div class="t" style="left:70.3px;top:541.96px;font-size:16.0px; transform:translateX(-100%);">-0.1</div>
<div class="t" style="left:70.3px;top:612.16px;font-size:16.0px; transform:translateX(-100%);">-0.2</div>
<div class="t" style="left:71.7px;top:648.06px;font-size:16.0px; transform:translateX(-100%);">0</div>
<div class="t" style="left:70.3px;top:718.26px;font-size:16.0px; transform:translateX(-100%);">-0.1</div>
<div class="t" style="left:70.3px;top:788.46px;font-size:16.0px; transform:translateX(-100%);">-0.2</div>
<div class="t" style="left:71.7px;top:823.16px;font-size:16.0px; transform:translateX(-100%);">0</div>
<div class="t" style="left:70.3px;top:893.36px;font-size:16.0px; transform:translateX(-100%);">-0.1</div>
<div class="t" style="left:70.3px;top:963.56px;font-size:16.0px; transform:translateX(-100%);">-0.2</div>
<div class="t" style="left:111.6px;top:1015.06px;font-size:16.0px; transform:translateX(-50%);">0.08</div>
<div class="t" style="left:178.6px;top:1015.06px;font-size:16.0px; transform:translateX(-50%);">0.04</div>
<div class="t" style="left:245.6px;top:1015.06px;font-size:16.0px; transform:translateX(-50%);">0</div>
<div class="t" style="left:313.6px;top:1015.06px;font-size:16.0px; transform:translateX(-50%);">0.08</div>
<div class="t" style="left:380.6px;top:1015.06px;font-size:16.0px; transform:translateX(-50%);">0.04</div>
<div class="t" style="left:447.6px;top:1015.06px;font-size:16.0px; transform:translateX(-50%);">0</div>
<div class="t" style="left:88.9px;top:487.98px;font-size:22.0px;font-weight:bold; transform:translateX(0);">a1</div>
<div class="t" style="left:89.2px;top:513.26px;font-size:16.0px; transform:translateX(0);">x=0.01</div>
<div class="t" style="left:292.0px;top:487.98px;font-size:22.0px;font-weight:bold; transform:translateX(0);">a2</div>
<div class="t" style="left:289.4px;top:513.56px;font-size:16.0px; transform:translateX(0);">x=0.03</div>
<div class="t" style="left:90.0px;top:665.98px;font-size:22.0px;font-weight:bold; transform:translateX(0);">a3</div>
<div class="t" style="left:86.4px;top:689.06px;font-size:16.0px; transform:translateX(0);">x=0.063</div>
<div class="t" style="left:289.5px;top:665.78px;font-size:22.0px;font-weight:bold; transform:translateX(0);">a4</div>
<div class="t" style="left:286.4px;top:689.26px;font-size:16.0px; transform:translateX(0);">x=0.075</div>
<div class="t" style="left:87.5px;top:841.98px;font-size:22.0px;font-weight:bold; transform:translateX(0);">a5</div>
<div class="t" style="left:86.9px;top:866.76px;font-size:16.0px; transform:translateX(0);">x=0.10</div>
<div class="t" style="left:291.0px;top:840.98px;font-size:22.0px;font-weight:bold; transform:translateX(0);">a6</div>
<div class="t" style="left:287.9px;top:867.56px;font-size:16.0px; transform:translateX(0);">x=0.15</div>
<div class="t" style="left:433.5px;top:591.76px;font-size:16.0px;font-weight:bold; transform:translateX(0);">MDC</div>
<div class="t" style="left:434.0px;top:611.46px;font-size:16.0px;font-weight:bold; transform:translateX(0);">EDC</div>
<div class="t" style="left:407.3px;top:927.79px;font-size:13.3px;font-weight:bold; transform:translateX(0);">EDC LE fit</div>
<div class="t" style="left:407.3px;top:943.49px;font-size:13.3px;font-weight:bold; transform:translateX(0);">MDC HE fit</div>
<div class="t" style="left:407.3px;top:959.19px;font-size:13.3px;font-weight:bold; transform:translateX(0);">MDC LE fit</div>
<div class="t" style="left:407.3px;top:974.89px;font-size:13.3px;font-weight:bold; transform:translateX(0);">"Bare"</div>
<div class="t" style="left:680.0px;top:492.87px;font-size:22.3px;font-weight:bold; transform:translateX(0);">b</div>
<div class="t" style="left:621.0px;top:532.46px;font-size:16.0px;font-weight:bold; transform:translateX(0);">V<span class="sb" style="font-size:11.2px;top:4.7px;margin-right:0.8px">H</span> (MDC)</div>
<div class="t" style="left:621.0px;top:555.56px;font-size:16.0px;font-weight:bold; transform:translateX(0);">V<span class="sb" style="font-size:11.2px;top:4.7px;margin-right:0.8px">L</span> (MDC)</div>
<div class="t" style="left:621.0px;top:578.66px;font-size:16.0px;font-weight:bold; transform:translateX(0);">V<span class="sb" style="font-size:11.2px;top:4.7px;margin-right:0.8px">L</span> (EDC)</div>
<div class="t" style="left:716.6px;top:998.36px;font-size:16.0px; transform:translateX(0);">0</div>
<div class="t" style="left:716.6px;top:881.30px;font-size:16.0px; transform:translateX(0);">2</div>
<div class="t" style="left:716.6px;top:764.24px;font-size:16.0px; transform:translateX(0);">4</div>
<div class="t" style="left:716.6px;top:647.18px;font-size:16.0px; transform:translateX(0);">6</div>
<div class="t" style="left:716.6px;top:530.12px;font-size:16.0px; transform:translateX(0);">8</div>
<div class="t" style="left:284.5px;top:1038.42px;font-size:19.0px;font-weight:bold; transform:translateX(-50%);">Momentum (A<span class="sb" style="font-size:12.3px;top:-12.6px">-1</span>)</div>
<div class="t" style="left:494.8px;top:1032.37px;font-size:17.7px;font-weight:bold; transform:translateX(0);">Doping, x in (La<span class="sb" style="font-size:12px;top:5.4px">2-x</span>Sr<span class="sb" style="font-size:12px;top:5.4px">x</span>)CuO<span class="sb" style="font-size:12px;top:5.4px">4</span></div>
<div class="t" style="left:20.1px;top:729.3px;font-size:24.8px;transform:rotate(-90deg) translateX(-50%);transform-origin:0 0;">E - E<span class="sb" style="font-size:17.5px;top:7.6px">F</span> (eV)</div>
<div class="t" style="left:751.3px;top:726.3px;font-size:19.1px;font-weight:bold;transform:rotate(-90deg) translateX(-50%);transform-origin:0 0;">Velocity (eVA)</div>
</div>
</body></html>
